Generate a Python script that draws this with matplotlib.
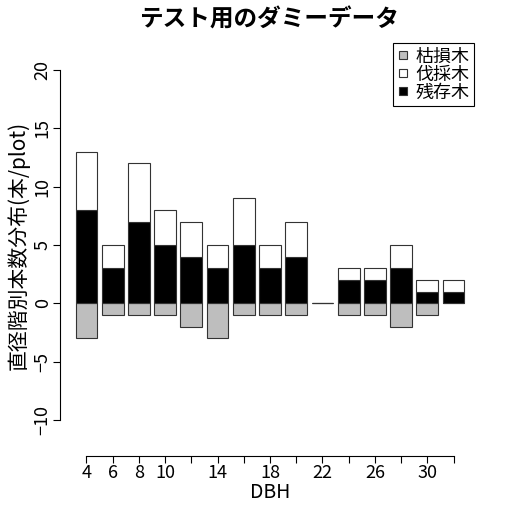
import matplotlib
matplotlib.use("Agg")
import matplotlib.pyplot as plt
from matplotlib.lines import Line2D

plt.rcParams["font.family"] = ["Noto Sans CJK JP", "DejaVu Sans"]

# DBH classes and stem counts per plot
dbh = [4, 6, 8, 10, 12, 14, 16, 18, 20, 22, 24, 26, 28, 30, 32]
dead = [-3, -1, -1, -1, -2, -3, -1, -1, -1, 0, -1, -1, -2, -1, 0]   # 枯損木
alive = [8, 3, 7, 5, 4, 3, 5, 3, 4, 0, 2, 2, 3, 1, 1]               # 残存木
cut = [5, 2, 5, 3, 3, 2, 4, 2, 3, 0, 1, 1, 2, 1, 1]                 # 伐採木

x_labels = ["4", "6", "8", "10", "", "14", "", "18", "", "22", "", "26", "", "30", ""]
y_ticks = [-10, -5, 0, 5, 10, 15, 20]

W = 515
fig = plt.figure(figsize=(5.15, 5.15), dpi=100)
ax = fig.add_axes([60 / W, (W - 434) / W, 420 / W, (434 - 56) / W])

bw = 2 / 1.2
edge = "#333333"
ax.bar(dbh, dead, width=bw, color="#BEBEBE", edgecolor=edge, linewidth=0.8)
ax.bar(dbh, alive, width=bw, color="black", edgecolor=edge, linewidth=0.8)
ax.bar(dbh, cut, width=bw, bottom=alive, color="white", edgecolor=edge, linewidth=0.8)

ax.set_xlim(4 - bw / 2 - 0.712 * bw, 32 + bw / 2 + 0.712 * bw)
ax.set_ylim(-11.2, 21.2)

for s in ["top", "right"]:
    ax.spines[s].set_visible(False)
ax.spines["left"].set_bounds(-10, 20)
ax.spines["bottom"].set_bounds(4, 32)
ax.spines["bottom"].set_position(("outward", 15.5))
ax.spines["left"].set_linewidth(0.8)
ax.spines["bottom"].set_linewidth(0.8)

ax.set_xticks(dbh)
ax.set_xticklabels(x_labels, fontsize=13)
ax.set_yticks(y_ticks)
ax.set_yticklabels([str(v).replace("-", "\u2212") for v in y_ticks],
                   rotation=90, va="center", fontsize=13)
ax.tick_params(length=5, width=0.8, pad=1)

ax.set_xlabel("DBH", fontsize=14, labelpad=0)
ax.set_ylabel("直径階別本数分布(本/plot)", fontsize=15, labelpad=3)

fig.text(270 / W, 1 - 20 / W, "テスト用のダミーデータ", ha="center", va="center",
         fontsize=17, fontweight="bold")

handles = [
    Line2D([], [], marker="s", linestyle="", markersize=6, markerfacecolor="#BEBEBE",
           markeredgecolor=edge, markeredgewidth=0.8),
    Line2D([], [], marker="s", linestyle="", markersize=6, markerfacecolor="white",
           markeredgecolor=edge, markeredgewidth=0.8),
    Line2D([], [], marker="s", linestyle="", markersize=6, markerfacecolor="black",
           markeredgecolor=edge, markeredgewidth=0.8),
]
leg = fig.legend(handles, ["枯損木", "伐採木", "残存木"], loc="upper right",
                 bbox_to_anchor=(474 / W, 1 - 43 / W), fontsize=13,
                 frameon=True, fancybox=False, edgecolor="black", framealpha=1,
                 handlelength=0.6, handletextpad=0.4, labelspacing=0.0,
                 borderpad=0.25, borderaxespad=0)
leg.get_frame().set_linewidth(0.8)

fig.savefig("out.png", dpi=100)
